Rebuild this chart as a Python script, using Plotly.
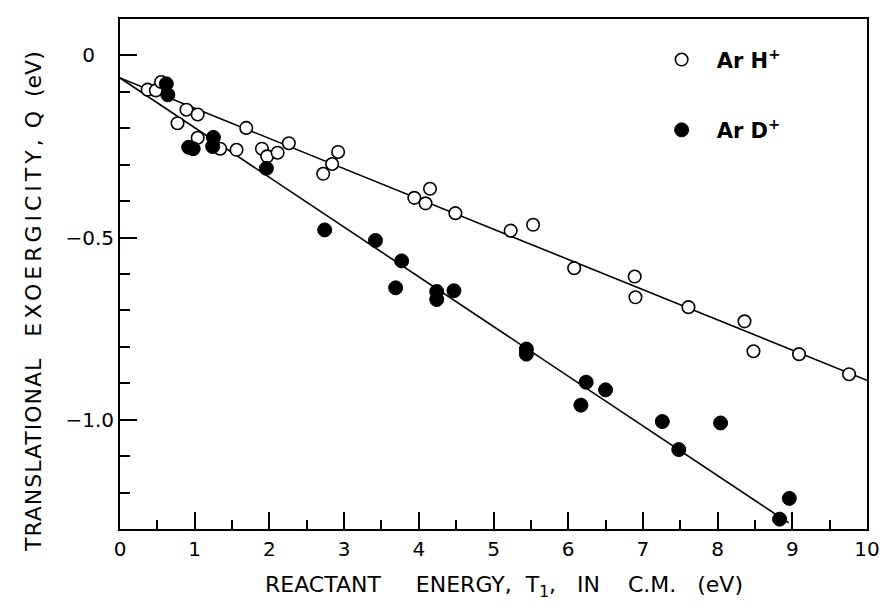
import plotly.graph_objects as go

# ArH+ (open circles)
arh_x = [0.37, 0.48, 0.55, 0.77, 0.89, 1.04, 1.04, 1.34, 1.56, 1.69, 1.90, 1.97, 2.11, 2.26,
         2.72, 2.84, 2.92, 3.94, 4.09, 4.15, 4.49, 5.23, 5.53, 6.08, 6.89, 6.90, 7.61, 8.36,
         8.48, 9.09, 9.76]
arh_y = [-0.094, -0.096, -0.073, -0.186, -0.149, -0.162, -0.226, -0.256, -0.259, -0.199, -0.256,
         -0.277, -0.267, -0.241, -0.325, -0.298, -0.265, -0.391, -0.406, -0.366, -0.433, -0.481,
         -0.465, -0.584, -0.607, -0.664, -0.691, -0.730, -0.812, -0.820, -0.875]

# ArD+ (filled circles)
ard_x = [0.62, 0.64, 0.92, 0.98, 1.25, 1.24, 1.96, 2.74, 3.42, 3.69, 3.77, 4.24, 4.24, 4.47,
         5.44, 5.44, 6.17, 6.24, 6.50, 7.26, 7.48, 8.04, 8.83, 8.96]
ard_y = [-0.078, -0.108, -0.252, -0.256, -0.225, -0.250, -0.310, -0.479, -0.508, -0.638, -0.564,
         -0.648, -0.670, -0.646, -0.806, -0.820, -0.960, -0.897, -0.918, -1.005, -1.082, -1.009,
         -1.273, -1.216]

# fitted lines
fit_h_x = [0, 10]
fit_h_y = [-0.062, -0.892]
fit_d_x = [0, 8.95]
fit_d_y = [-0.062, -1.283]

x_tickvals = list(range(0, 11))
x_ticktext = [str(v) for v in x_tickvals]
y_tickvals = [0, -0.5, -1.0]
y_ticktext = ["0\u00a0\u00a0\u00a0", "\u22120.5", "\u22121.0"]

FONT = "DejaVu Sans, Liberation Sans, sans-serif"
NB = "\u00a0"

fig = go.Figure()
fig.add_trace(go.Scatter(x=fit_h_x, y=fit_h_y, mode="lines",
                         line=dict(color="black", width=1.6), showlegend=False, hoverinfo="skip"))
fig.add_trace(go.Scatter(x=fit_d_x, y=fit_d_y, mode="lines",
                         line=dict(color="black", width=1.6), showlegend=False, hoverinfo="skip"))
fig.add_trace(go.Scatter(x=arh_x, y=arh_y, mode="markers", name="Ar" + NB + "H<sup>+</sup>",
                         legendgroup="h",
                         marker=dict(symbol="circle", size=12.5, color="white",
                                     line=dict(color="black", width=1.6))))
fig.add_trace(go.Scatter(x=ard_x, y=ard_y, mode="markers", name="Ar" + NB + "D<sup>+</sup>",
                         legendgroup="d",
                         marker=dict(symbol="circle", size=14, color="black",
                                     line=dict(color="black", width=1))))

axis_common = dict(showgrid=False, zeroline=False, showline=True, linecolor="black",
                   linewidth=2, mirror=True, ticks="inside", tickcolor="black",
                   tickwidth=1.5, ticklen=17, automargin=False,
                   tickfont=dict(family=FONT, size=20, color="black"))

fig.update_xaxes(range=[0, 10], tickmode="array", tickvals=x_tickvals, ticktext=x_ticktext,
                 minor=dict(tickmode="linear", tick0=0, dtick=0.5, ticks="inside",
                            ticklen=9, tickcolor="black", tickwidth=1.5),
                 ticklabelstandoff=1, **axis_common)
fig.update_yaxes(range=[-1.3, 0.1], tickmode="array", tickvals=y_tickvals, ticktext=y_ticktext,
                 minor=dict(tickmode="linear", tick0=0, dtick=0.1, ticks="inside",
                            ticklen=10, tickcolor="black", tickwidth=1.5),
                 ticklabelstandoff=0, **axis_common)

xtitle = ("REACTANT" + NB * 5 + "ENERGY," + NB * 2 + "T<sub>1</sub>," + NB * 3 + "IN"
          + NB * 4 + "C.M." + NB * 3 + "(eV)")
ytitle = ('<span style="letter-spacing:1px">TRANSLATIONAL</span>' + NB * 3
          + '<span style="letter-spacing:4px">EXOERGICITY,</span>' + NB
          + "Q" + NB * 2 + "(eV)")

fig.add_annotation(text=xtitle,
                   xref="paper", yref="paper", x=0.514, y=0, xanchor="center", yanchor="middle",
                   yshift=-57, showarrow=False, font=dict(family=FONT, size=22, color="black"))
fig.add_annotation(text=ytitle,
                   xref="paper", yref="paper", x=0, y=0.445, xanchor="center", yanchor="middle",
                   xshift=-87, textangle=-90, showarrow=False,
                   font=dict(family=FONT, size=22, color="black"))

fig.update_layout(
    width=880, height=603,
    margin=dict(l=120, r=13, t=19, b=74, autoexpand=False),
    paper_bgcolor="white", plot_bgcolor="white",
    font=dict(family=FONT, color="black"),
    showlegend=True,
    legend=dict(x=0.705, y=0.96, xanchor="left", yanchor="top",
                bgcolor="rgba(0,0,0,0)", itemwidth=60, tracegroupgap=40,
                font=dict(family=FONT, size=21, color="black", weight="bold")),
)

fig.write_html("out.html")
